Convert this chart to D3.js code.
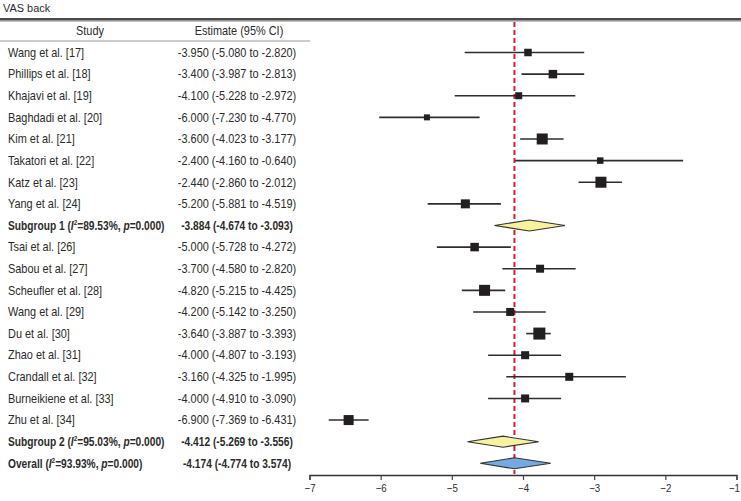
<!DOCTYPE html>
<html>
<head>
<meta charset="utf-8">
<script src="https://cdn.jsdelivr.net/npm/d3@7"></script>
<style>
  html, body { margin: 0; padding: 0; background: #fff; }
  svg { display: block; }
  text { font-family: "Liberation Sans", Arial, sans-serif; fill: #2b2b2b; }
</style>
</head>
<body>
<svg id="chart" width="741" height="501"></svg>
<script>
// ---- data ----
const title = "VAS back";
const studies = [
  "Wang et al. [17]", "Phillips et al. [18]", "Khajavi et al. [19]", "Baghdadi et al. [20]",
  "Kim et al. [21]", "Takatori et al. [22]", "Katz et al. [23]", "Yang et al. [24]",
  "Subgroup 1 (I2=89.53%, p=0.000)",
  "Tsai et al. [26]", "Sabou et al. [27]", "Scheufler et al. [28]", "Wang et al. [29]",
  "Du et al. [30]", "Zhao et al. [31]", "Crandall et al. [32]", "Burneikiene et al. [33]",
  "Zhu et al. [34]",
  "Subgroup 2 (I2=95.03%, p=0.000)",
  "Overall (I2=93.93%, p=0.000)"
];
const estimateLabels = [
  "-3.950 (-5.080 to -2.820)", "-3.400 (-3.987 to -2.813)", "-4.100 (-5.228 to -2.972)",
  "-6.000 (-7.230 to -4.770)", "-3.600 (-4.023 to -3.177)", "-2.400 (-4.160 to -0.640)",
  "-2.440 (-2.860 to -2.012)", "-5.200 (-5.881 to -4.519)", "-3.884 (-4.674 to -3.093)",
  "-5.000 (-5.728 to -4.272)", "-3.700 (-4.580 to -2.820)", "-4.820 (-5.215 to -4.425)",
  "-4.200 (-5.142 to -3.250)", "-3.640 (-3.887 to -3.393)", "-4.000 (-4.807 to -3.193)",
  "-3.160 (-4.325 to -1.995)", "-4.000 (-4.910 to -3.090)", "-6.900 (-7.369 to -6.431)",
  "-4.412 (-5.269 to -3.556)", "-4.174 (-4.774 to 3.574)"
];
const rowType = ["study","study","study","study","study","study","study","study","subgroup",
  "study","study","study","study","study","study","study","study","study","subgroup","overall"];
// plotted positions
const pointEst = [-3.93, -3.58, -4.06, -5.35, -3.73, -2.915, -2.905, -4.81, -3.91,
  -4.68, -3.76, -4.54, -4.18, -3.77, -3.97, -3.35, -3.97, -6.45, -4.28, -4.12];
const ciLow = [-4.82, -4.02, -4.96, -6.02, -4.04, -4.11, -3.22, -5.34, -4.40,
  -5.21, -4.29, -4.86, -4.70, -3.955, -4.49, -4.235, -4.49, -6.73, -4.78, -4.60];
const ciHigh = [-3.14, -3.14, -3.265, -4.61, -3.43, -1.75, -2.61, -4.31, -3.41,
  -4.17, -3.26, -4.25, -3.68, -3.61, -3.465, -2.555, -3.465, -6.17, -3.78, -3.61];
const weights = [7.5, 8.5, 7, 6, 11, 6.5, 11, 9, 0, 8.5, 8, 11, 8, 12, 8, 8, 8, 10, 0, 0];
const overallEffect = -4.12;
const xTicks = [-7, -6, -5, -4, -3, -2, -1];
const headers = ["Study", "Estimate (95% CI)"];

// ---- drawing ----
const svg = d3.select("#chart");
const x = d3.scaleLinear().domain([-7, -1]).range([309.5, 736.5]);
const y = d3.scaleLinear().domain([0, studies.length - 1]).range([52.5, 463.3]);
const boxSize = d3.scaleLinear().domain([0, 12]).range([0, 12]);
const FS = "12px";
const SX_REG = 0.91, SX_BOLD = 0.85;
const isBold = i => rowType[i] !== "study";
const place = (px, py, s) => `translate(${px},${py}) scale(${s},1)`;

svg.append("text").attr("transform", place(3, 12, 0.95)).style("font-size", "11.5px").text(title);

// top double rule
svg.append("rect").attr("x", 0).attr("y", 18).attr("width", 741).attr("height", 2.6).attr("fill", "#4a4a4a");
svg.append("rect").attr("x", 0).attr("y", 20.6).attr("width", 741).attr("height", 1).attr("fill", "#9a9a9a");
// header underline
svg.append("rect").attr("x", 0).attr("y", 40.5).attr("width", 310).attr("height", 1).attr("fill", "#9a9a9a");

svg.append("text").attr("transform", place(90, 35, SX_REG)).attr("text-anchor", "middle")
  .style("font-size", FS).text(headers[0]);
svg.append("text").attr("transform", place(239, 35, SX_REG)).attr("text-anchor", "middle")
  .style("font-size", FS).text(headers[1]);

// study labels
const lab = svg.append("g").selectAll("text").data(studies).join("text")
  .attr("transform", (d, i) => place(8, y(i) + 4.3, isBold(i) ? SX_BOLD : SX_REG))
  .style("font-size", FS)
  .style("font-weight", (d, i) => isBold(i) ? "bold" : "normal");
lab.each(function(d) {
  const t = d3.select(this);
  const m = d.match(/^(.*\()I2(=.*, )p(=.*)$/);
  if (!m) { t.text(d); return; }
  t.append("tspan").text(m[1]);
  t.append("tspan").style("font-style", "italic").text("I");
  t.append("tspan").attr("dy", -4.5).style("font-size", "7.5px").text("2");
  t.append("tspan").attr("dy", 4.5).text(m[2]);
  t.append("tspan").style("font-style", "italic").text("p");
  t.append("tspan").text(m[3]);
});

svg.append("g").selectAll("text").data(estimateLabels).join("text")
  .attr("transform", (d, i) => place(237, y(i) + 4.3, isBold(i) ? SX_BOLD : SX_REG))
  .attr("text-anchor", "middle")
  .style("font-size", FS)
  .style("font-weight", (d, i) => isBold(i) ? "bold" : "normal")
  .text(d => d);

// reference dashed line
svg.append("line")
  .attr("x1", x(overallEffect)).attr("x2", x(overallEffect))
  .attr("y1", 22).attr("y2", 474)
  .attr("stroke", "#d3202f").attr("stroke-width", 2).attr("stroke-dasharray", "5,3");

const idx = d3.range(studies.length);
const studyIdx = idx.filter(i => rowType[i] === "study");
const diaIdx = idx.filter(i => rowType[i] !== "study");

const plot = svg.append("g");
plot.selectAll("line.ci").data(studyIdx).join("line")
  .attr("class", "ci")
  .attr("x1", i => x(ciLow[i])).attr("x2", i => x(ciHigh[i]))
  .attr("y1", i => y(i)).attr("y2", i => y(i))
  .attr("stroke", "#2e2e2e").attr("stroke-width", 1.6);
plot.selectAll("rect.box").data(studyIdx).join("rect")
  .attr("class", "box")
  .attr("x", i => x(pointEst[i]) - boxSize(weights[i]) / 2)
  .attr("y", i => y(i) - boxSize(weights[i]) / 2)
  .attr("width", i => boxSize(weights[i]))
  .attr("height", i => boxSize(weights[i]))
  .attr("fill", "#231f20");
plot.selectAll("path.dia").data(diaIdx).join("path")
  .attr("class", "dia")
  .attr("d", i => {
    const cy = y(i), h = 5.5;
    return `M${x(ciLow[i])},${cy}L${x(pointEst[i])},${cy - h}L${x(ciHigh[i])},${cy}L${x(pointEst[i])},${cy + h}Z`;
  })
  .attr("fill", i => rowType[i] === "overall" ? "#74aadf" : "#f8f19e")
  .attr("stroke", "#333").attr("stroke-width", 1.1);

// axis
const axis = svg.append("g").attr("transform", "translate(0,475)")
  .call(d3.axisBottom(x).tickValues(xTicks).tickSize(5).tickFormat(d3.format("d")));
axis.select(".domain").attr("stroke", "#333").attr("stroke-width", 1.3);
axis.selectAll(".tick line").attr("stroke", "#444").attr("stroke-width", 1.2);
axis.selectAll(".tick text")
  .attr("y", null).attr("dy", null)
  .attr("text-anchor", d => d === -1 ? "end" : "middle")
  .attr("transform", d => place(d === -1 ? 3 : 0, 17, 0.88))
  .style("font-size", "11px")
  .style("font-family", "'Liberation Sans', Arial, sans-serif").attr("fill", "#333");
</script>
</body>
</html>
